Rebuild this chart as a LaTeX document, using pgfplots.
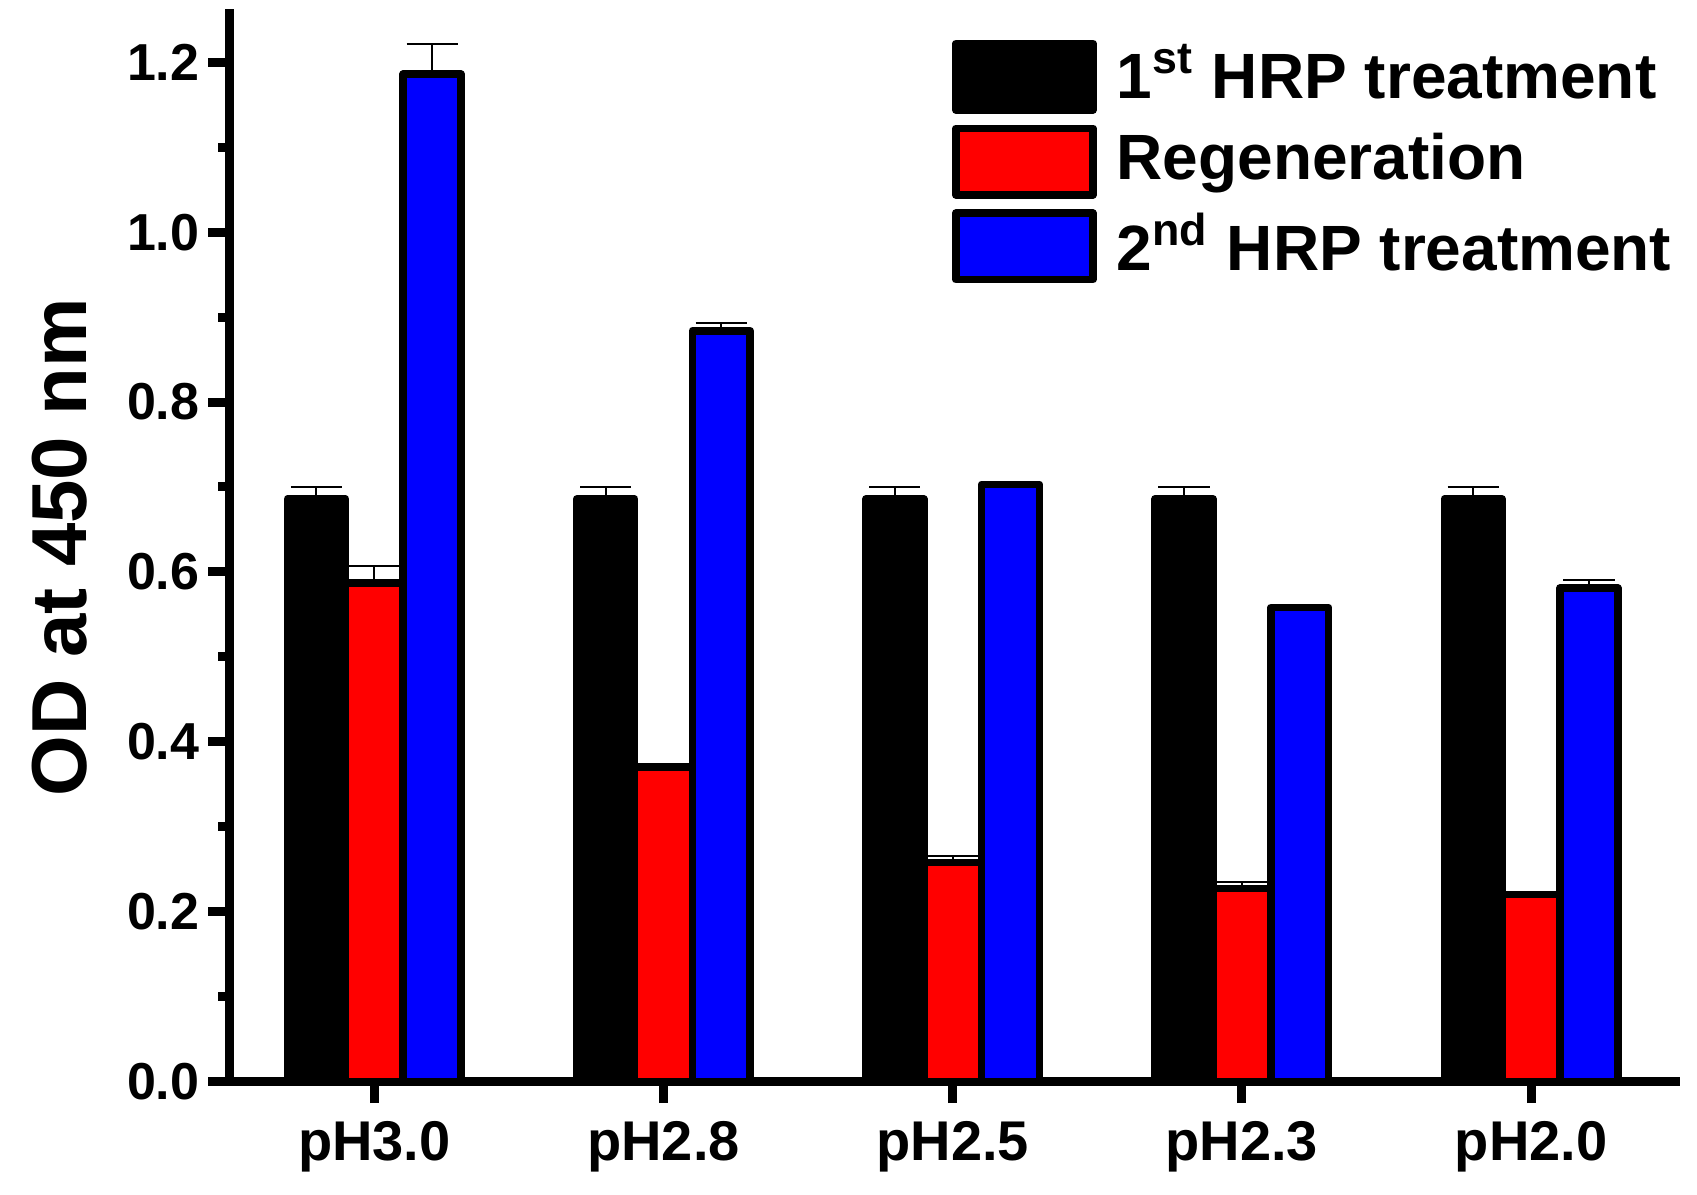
\documentclass[border=0pt]{standalone}
\usepackage{fontspec}
\setmainfont{Liberation Sans}
\usepackage{pgfplots}
\pgfplotsset{compat=1.18}
\usepackage{pgfplotstable}

\pgfplotstableread{
x y e
0 0.686 0.014
1 0.686 0.014
2 0.686 0.014
3 0.686 0.014
4 0.686 0.014
}\first
\pgfplotstableread{
x y e
0 0.587 0.020
1 0.370 0.000
2 0.258 0.007
3 0.227 0.008
4 0.220 0.000
}\regen
\pgfplotstableread{
x y e
0 1.186 0.036
1 0.884 0.009
2 0.703 0.000
3 0.558 0.000
4 0.581 0.010
}\second

\begin{document}
\begin{tikzpicture}
\begin{axis}[
  scale only axis, width=361.5pt, height=267.1pt,
  xmin=-0.5, xmax=4.5, ymin=0, ymax=1.258,
  axis lines=left,
  axis line style={line width=2.25pt, -, line cap=rect},
  tick align=outside,
  major tick length=5.4pt, minor tick length=2.8pt,
  tick style={line width=2.25pt, black},
  xtick={0,1,2,3,4},
  xticklabels={pH3.0,pH2.8,pH2.5,pH2.3,pH2.0},
  ytick={0,0.2,0.4,0.6,0.8,1.0,1.2},
  minor ytick={0.1,0.3,0.5,0.7,0.9,1.1},
  /pgf/number format/assume math mode=true,
  yticklabel style={/pgf/number format/.cd, fixed, fixed zerofill, precision=1, /tikz/.cd, font=\bfseries\fontsize{13}{15}\selectfont, anchor=east, inner sep=0pt, xshift=-2pt},
  xticklabel style={font=\bfseries\fontsize{14}{16}\selectfont, anchor=north, inner sep=0pt, yshift=-4.3pt},
  ylabel={OD at 450 nm},
  every axis y label/.style={at={(axis description cs:-0.1176,0.5)}, rotate=90, anchor=center, font=\bfseries\fontsize{19.5}{22}\selectfont},
  ybar, bar width=0.2,
  legend cell align=left,
  legend style={at={(rel axis cs:0.4995,0.975)}, anchor=north west, draw=none, fill=none, inner sep=0pt, outer sep=0pt,
    nodes={inner sep=0pt}, row sep=2.7pt,
    font=\bfseries\fontsize{16}{19}\selectfont,
    /tikz/every odd column/.append style={column sep=5pt}},
  legend image code/.code={\draw[#1, line width=1.9pt, line join=round] (0pt,-8.8pt) rectangle (34.3pt,7.8pt);},
]
\coordinate (O) at (rel axis cs:0,0);
\addplot[fill=black, draw=black, line width=1.9pt, line join=round, bar shift=-0.2,
  error bars/.cd, y dir=plus, y explicit, error bar style={line width=0.5pt, black}, error mark options={rotate=90, line width=0.5pt, black, mark size=6.4pt}]
  table[x=x, y=y, y error=e] {\first};
\addplot[fill=red, draw=black, line width=1.9pt, line join=round, bar shift=0,
  error bars/.cd, y dir=plus, y explicit, error bar style={line width=0.5pt, black}, error mark options={rotate=90, line width=0.5pt, black, mark size=6.4pt}]
  table[x=x, y=y, y error=e] {\regen};
\addplot[fill=blue, draw=black, line width=1.9pt, line join=round, bar shift=0.2,
  error bars/.cd, y dir=plus, y explicit, error bar style={line width=0.5pt, black}, error mark options={rotate=90, line width=0.5pt, black, mark size=6.4pt}]
  table[x=x, y=y, y error=e] {\second};
\legend{1\textsuperscript{st} HRP treatment, Regeneration, 2\textsuperscript{nd} HRP treatment}
\end{axis}
\pgfresetboundingbox
\path[use as bounding box] ([xshift=-57.425pt, yshift=-28.375pt]O) rectangle ([xshift=366.825pt, yshift=270.375pt]O);
\end{tikzpicture}
\end{document}
